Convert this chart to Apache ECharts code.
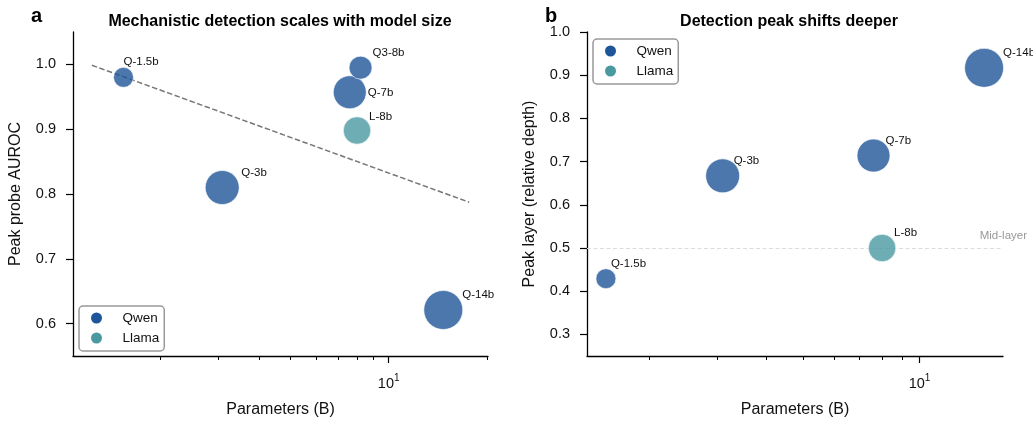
<!DOCTYPE html>
<html>
<head>
<meta charset="utf-8">
<script src="https://cdn.jsdelivr.net/npm/echarts@6/dist/echarts.min.js"></script>
<style>
  html, body { margin: 0; padding: 0; background: #fff; }
  #chart { width: 1033px; height: 423px; }
</style>
</head>
<body>
<div id="chart"></div>
<script>
// data
const models = ['Q-1.5b', 'Q-3b', 'Q-7b', 'Q-14b', 'Q3-8b', 'L-8b'];
const family = ['Qwen', 'Qwen', 'Qwen', 'Qwen', 'Qwen', 'Llama'];
const params = [1.54, 3.09, 7.6, 14.7, 8.2, 8.0];          // billions
const auroc = [0.980, 0.810, 0.957, 0.621, 0.995, 0.898];
const peakLayer = [0.429, 0.667, 0.714, 0.917, null, 0.500];
const minorTicks = [2, 3, 4, 5, 6, 7, 8, 9, 20];
const majorTicks = [10];
const aurocTicks = [0.6, 0.7, 0.8, 0.9, 1.0];
const layerTicks = [0.3, 0.4, 0.5, 0.6, 0.7, 0.8, 0.9, 1.0];
const midLayer = 0.5;

const FONT = '"Liberation Sans", Arial, sans-serif';
const colors = { Qwen: '#1e5598', Llama: '#4a98a0' };
const bubbleSize = { 'Q-1.5b': 20, 'Q-3b': 34, 'Q-7b': 33, 'Q-14b': 39, 'Q3-8b': 23, 'L-8b': 27.5 };
const labelOffset = {
    a: { 'Q-1.5b': [0, -16], 'Q-3b': [19, -15], 'Q-7b': [18, 1], 'Q-14b': [19, -15], 'Q3-8b': [12, -15], 'L-8b': [12, -14] },
    b: { 'Q-1.5b': [5, -15], 'Q-3b': [11, -15], 'Q-7b': [12, -15], 'Q-14b': [19, -15], 'L-8b': [12, -15] }
};

// least squares fit of auroc against log10(params)
const lx = params.map(Math.log10);
const mx = lx.reduce((s, v) => s + v, 0) / lx.length;
const my = auroc.reduce((s, v) => s + v, 0) / auroc.length;
let sxy = 0, sxx = 0;
lx.forEach((v, i) => { sxy += (v - mx) * (auroc[i] - my); sxx += (v - mx) * (v - mx); });
const slope = sxy / sxx, icpt = my - slope * mx;
const fitX = [Math.min(...params) * 0.8, Math.max(...params) * 1.2];
const fitY = fitX.map(x => icpt + slope * Math.log10(x));

// matplotlib-like 5% margin on a log axis
function logPad(lo, hi) {
    const a = Math.log10(lo), b = Math.log10(hi), r = b - a;
    return [Math.pow(10, a - 0.05 * r), Math.pow(10, b + 0.05 * r)];
}
const xa = logPad(fitX[0], fitX[1]);
const pb = params.filter((p, i) => peakLayer[i] != null);
const xb = logPad(Math.min(...pb), Math.max(...pb));

function points(ys, fam, panel) {
    const out = [];
    models.forEach((m, i) => {
        if (family[i] !== fam || ys[i] == null) return;
        out.push({
            name: m, value: [params[i], ys[i]], symbolSize: bubbleSize[m],
            label: { offset: labelOffset[panel][m] }
        });
    });
    return out;
}

function bubbles(name, ys, panel, idx) {
    return {
        type: 'scatter', name: name, xAxisIndex: idx * 2, yAxisIndex: idx,
        data: points(ys, name, panel), z: 3,
        itemStyle: { color: colors[name], opacity: 0.8, borderColor: '#fff', borderWidth: 0.8 },
        label: {
            show: true, position: 'inside', align: 'left', verticalAlign: 'middle', opacity: 1,
            formatter: p => p.name, fontSize: 11.5, color: '#111', fontFamily: FONT
        },
        emphasis: { disabled: true }
    };
}

const axisLine = { show: true, lineStyle: { color: '#000', width: 1.3 } };
const tickLabel = { fontSize: 14.5, color: '#111', fontFamily: FONT };
const nameStyle = { fontSize: 16, color: '#111', fontFamily: FONT };

function xAxes(grid, ext) {
    return [
        {   // minor ticks + spine
            type: 'log', gridIndex: grid, position: 'bottom', min: ext[0], max: ext[1],
            axisLine: axisLine, splitLine: { show: false },
            axisTick: { show: true, length: 4, customValues: minorTicks, lineStyle: { color: '#000', width: 1 } },
            axisLabel: { show: false },
            name: 'Parameters (B)', nameLocation: 'middle', nameGap: 46, nameTextStyle: nameStyle
        },
        {   // major tick 10^1, exponent drawn as superscript
            type: 'log', gridIndex: grid, position: 'bottom', min: ext[0], max: ext[1],
            axisLine: { show: false }, splitLine: { show: false },
            axisTick: { show: true, length: 7, customValues: majorTicks, lineStyle: { color: '#000', width: 1.2 } },
            axisLabel: {
                customValues: majorTicks, margin: 17, fontFamily: FONT,
                formatter: v => '{n|' + 10 + '}{s|' + Math.round(Math.log10(v)) + '}',
                rich: {
                    n: { fontSize: 14.5, color: '#111', lineHeight: 18, verticalAlign: 'bottom', fontFamily: FONT },
                    s: { fontSize: 10, color: '#111', lineHeight: 18, verticalAlign: 'top', fontFamily: FONT }
                }
            }
        }
    ];
}

function yAxis(grid, min, max, ticks, name) {
    return {
        type: 'value', gridIndex: grid, min: min, max: max,
        axisLine: axisLine, splitLine: { show: false },
        axisTick: { show: true, length: 7, customValues: ticks, lineStyle: { color: '#000', width: 1.2 } },
        axisLabel: Object.assign({ customValues: ticks, margin: 17, formatter: v => v.toFixed(1) }, tickLabel),
        name: name, nameLocation: 'middle', nameGap: 49, nameTextStyle: nameStyle
    };
}

function legend(left, top) {
    return {
        data: ['Qwen', 'Llama'], orient: 'vertical', left: left, top: top,
        icon: 'circle', itemWidth: 14, itemHeight: 11, itemGap: 6,
        padding: [5, 5, 6, 12], borderColor: '#999', borderWidth: 1.5, borderRadius: 4,
        backgroundColor: '#fff',
        itemStyle: { opacity: 1, borderWidth: 0 },
        textStyle: { fontSize: 13.5, color: '#111', fontFamily: FONT, padding: [0, 0, 0, 14], lineHeight: 14 },
        selectedMode: false
    };
}

const ttl = { fontSize: 16, fontWeight: 'bold', color: '#000', fontFamily: FONT };
const letter = { fontSize: 20, fontWeight: 'bold', color: '#000', fontFamily: FONT };

const option = {
    animation: false,
    textStyle: { fontFamily: FONT },
    title: [
        { text: 'Mechanistic detection scales with model size', left: 280, top: 14, textAlign: 'center', padding: 0, textStyle: ttl },
        { text: 'Detection peak shifts deeper', left: 789, top: 14, textAlign: 'center', padding: 0, textStyle: ttl },
        { text: 'a', left: 31, top: 6, padding: 0, textStyle: letter },
        { text: 'b', left: 545, top: 6, padding: 0, textStyle: letter }
    ],
    legend: [ legend(79, 306), legend(593, 39) ],
    grid: [
        { left: 73, top: 32, width: 415, height: 325 },
        { left: 587, top: 32, width: 416, height: 325 }
    ],
    xAxis: [ ...xAxes(0, xa), ...xAxes(1, xb) ],
    yAxis: [
        yAxis(0, 0.55, 1.05, aurocTicks, 'Peak probe AUROC'),
        yAxis(1, 0.25, 1.0, layerTicks, 'Peak layer (relative depth)')
    ],
    series: [
        {
            type: 'line', name: 'fit', xAxisIndex: 0, yAxisIndex: 0, z: 2,
            data: fitX.map((x, i) => [x, fitY[i]]), symbol: 'none', silent: true,
            lineStyle: { color: '#777', width: 1.5, type: [5.5, 2.5] }
        },
        bubbles('Qwen', auroc, 'a', 0),
        bubbles('Llama', auroc, 'a', 0),
        Object.assign(bubbles('Qwen', peakLayer, 'b', 1), {
            markLine: {
                silent: true, symbol: 'none', z: 1,
                lineStyle: { color: '#dcdcdc', width: 1, type: [4, 2.5] },
                label: { formatter: 'Mid-layer', position: 'insideEndTop', distance: [-24, 6], color: '#999', fontSize: 11.5, fontFamily: FONT },
                data: [ { yAxis: midLayer } ]
            }
        }),
        bubbles('Llama', peakLayer, 'b', 1)
    ]
};

const chart = echarts.init(document.getElementById('chart'), null, { renderer: 'canvas' });
chart.setOption(option);
</script>
</body>
</html>
